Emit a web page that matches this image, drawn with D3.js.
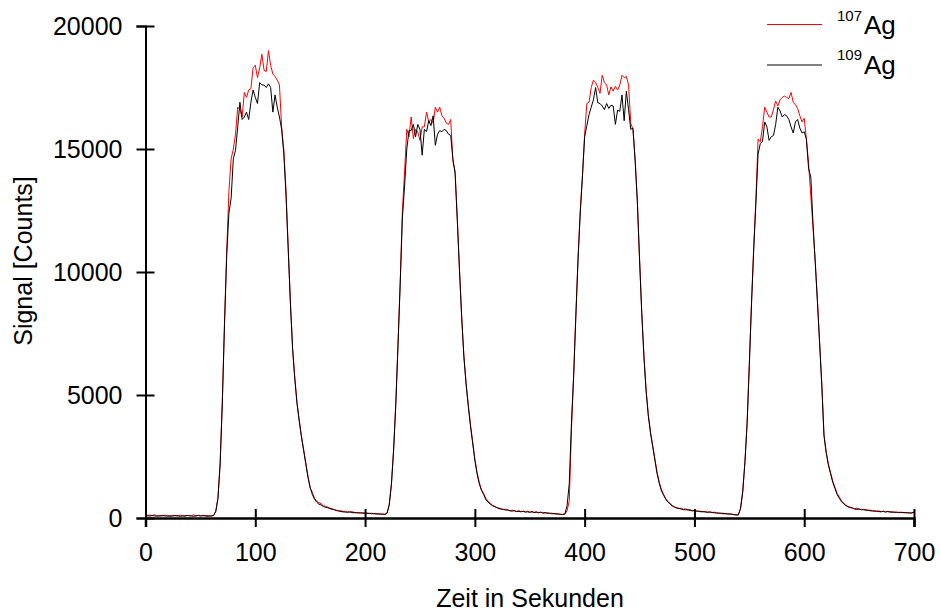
<!DOCTYPE html>
<html><head><meta charset="utf-8">
<script src="https://cdn.jsdelivr.net/npm/d3@7"></script>
<style>
body{margin:0;background:#fff}
svg{display:block}
text{font-family:"Liberation Sans", Arial, sans-serif; fill:#000}
</style>
</head><body>
<svg id="c" width="940" height="611"></svg>
<script>
// ---- data ----
const timeStep = 2; // seconds between samples, first sample at t = 0
const xTicks = [0, 100, 200, 300, 400, 500, 600, 700];
const yTicks = [0, 5000, 10000, 15000, 20000];
const xTitle = "Zeit in Sekunden";
const yTitle = "Signal [Counts]";
const seriesNames = ["107", "109"];

// 107Ag (red) by segment
const ag107_base = [150,110,120,90,130,100,80,110,90,120,70,100,90,110,80,100,120,90,80,110,90,100,130,80,100,90,110,80,100,90,80,100];
const ag107_peak1 = [280,820,2250,4800,8000,10900,13300,14600,15000,15600,16700,16600,16300,17300,17100,17400,17450,18300,18400,17900,18300,18850,18200,18150,19000,18400,18050,17950,17800,17600,15900,14950,13300,11000,8800,6900,5700,4700,4000,3350,2800,2250,1700,1200,1050,800,680,620,580,500,480,440,400,380,330,320,280,300,260,280,250,240,260,230,210,230,200,220,190,210,180,200,170,190,160,180,150,160];
const ag107_peak2 = [200,550,1400,2800,4700,7100,9600,12500,14100,15800,15500,16300,15420,15800,15700,15350,15900,15900,16500,16100,16200,16050,16700,16500,16700,16350,16250,16050,16000,16200,14500,14100,12200,10100,8200,6600,5500,4600,3800,3100,2400,1850,1450,1150,1000,800,680,600,520,480,430,400,380,340,360,320,300,320,290,270,300,260,270,250,280,240,250,230,260,220,230,210,200,220,180,200,170,180,150,160,140,150];
const ag107_peak3 = [300,700,3600,5800,8300,10600,12500,13900,15600,16850,16900,17500,17800,17700,17500,17260,18000,17700,17600,17200,17530,17350,17550,17400,17600,18000,17900,17950,17600,16050,15800,14600,12900,10600,8400,6600,5200,4200,3500,2950,2400,1850,1450,1150,950,780,670,580,510,450,420,380,400,350,380,320,340,300,290,300,260,280,250,270,240,250,220,240,200,210,180,200,170,160,180,150,130,140,120];
const ag107_peak4 = [400,1100,2300,3900,6300,8800,11000,13000,15400,15290,15900,16700,16500,16300,16300,16600,16950,16750,17000,17100,17150,17100,17050,17300,16900,16800,16650,16350,16100,16250,15400,14400,13100,11800,10500,8900,7200,5500,3400,2700,2200,1850,1500,1250,1000,850,700,600,520,470,440,400,380,400,350,360,330,350,310,320,280,300,270,290,260,280,250,270,240,260,230,250,220,240,210,230,200,220,190,260];

// 109Ag (black) by segment
const ag109_base = [110,90,80,100,90,70,90,80,100,80,90,70,80,90,100,80,70,90,80,100,90,80,70,90,110,80,90,100,70,80,90,100];
const ag109_peak1 = [260,790,2200,4700,7900,10700,12400,13000,14600,14950,15900,16900,16200,16300,16500,16200,16900,17400,17100,16850,17700,17600,17600,17500,17650,17500,16500,17200,16700,16300,15800,14800,13100,10900,8700,6850,5650,4650,3950,3300,2750,2200,1650,1250,950,760,640,560,530,470,430,420,380,350,340,300,290,260,250,240,230,250,220,210,220,200,210,190,200,180,190,170,180,160,170,150,160,140];
const ag109_peak2 = [190,520,1350,2750,4600,7000,9500,12200,13500,15000,15750,15750,16000,15500,16000,15800,14750,15800,15700,16150,15950,16350,15150,15600,15750,15700,15800,15750,15600,15550,14600,14000,12100,10050,8150,6550,5450,4550,3750,3050,2350,1800,1400,1120,960,740,650,560,500,460,420,380,360,350,320,330,290,280,300,260,270,250,280,240,250,230,260,220,230,210,240,200,220,190,200,170,180,160,170,140,150,160];
const ag109_peak3 = [500,1400,3900,5800,8200,10500,12400,13900,15500,15950,16400,16700,17000,17500,16880,16850,16750,16600,16850,16650,16780,16750,16000,16580,16530,17200,16150,17350,16600,15800,15850,14500,12850,10500,8350,6550,5150,4150,3450,2900,2350,1800,1400,1100,920,750,640,560,480,440,400,390,360,340,330,340,310,290,310,270,280,250,260,240,230,240,230,210,210,190,200,170,180,170,150,160,140,120,130];
const ag109_peak4 = [380,1050,2250,3850,6200,8700,10900,12800,14800,15220,15300,16100,15900,15350,15500,15550,16000,16700,16550,16300,16400,16350,16200,15900,15650,16100,16200,15850,15650,15700,15400,14200,13860,12000,10400,8800,7100,5400,3350,2650,2150,1800,1450,1200,950,800,660,570,500,450,420,410,360,350,370,330,350,310,320,290,300,270,280,260,250,270,240,260,250,230,240,220,230,220,230,210,220,200,210,240];

const ag107 = [].concat(ag107_base, ag107_peak1, ag107_peak2, ag107_peak3, ag107_peak4);
const ag109 = [].concat(ag109_base, ag109_peak1, ag109_peak2, ag109_peak3, ag109_peak4);

// ---- chart ----
const svg = d3.select("#c");
const x = d3.scaleLinear().domain([0, 700]).range([145.5, 914]);
const y = d3.scaleLinear().domain([0, 20000]).range([518, 26]);

const line = d3.line().x((d, i) => x(i * timeStep)).y(d => y(d));

svg.append("path").datum(ag107).attr("d", line)
  .attr("fill", "none").attr("stroke", "#ff0000").attr("stroke-width", 1);
svg.append("path").datum(ag109).attr("d", line)
  .attr("fill", "none").attr("stroke", "#000").attr("stroke-width", 1);

// x axis
const gx = svg.append("g").attr("transform", `translate(0,${y(0)})`)
  .call(d3.axisBottom(x).tickValues(xTicks).tickFormat(d3.format("d")).tickSizeOuter(0).tickSize(9));
gx.select(".domain").attr("stroke", "#000").attr("stroke-width", 2.5);
gx.selectAll(".tick line").attr("y1", -9).attr("y2", 9).attr("stroke-width", 2);
gx.selectAll(".tick text").attr("y", 43).attr("dy", 0)
  .style("font-size", "25px").style("font-family", "'Liberation Sans', Arial, sans-serif");

// y axis
const gy = svg.append("g").attr("transform", `translate(${x(0)},0)`)
  .call(d3.axisLeft(y).tickValues(yTicks).tickFormat(d3.format("d")).tickSizeOuter(0).tickSize(9));
gy.select(".domain").attr("stroke", "#000").attr("stroke-width", 2);
gy.selectAll(".tick line").attr("x1", -9).attr("x2", 9).attr("stroke-width", 2);
gy.selectAll(".tick text").attr("x", -23).attr("dy", "0.35em")
  .style("font-size", "25px").style("font-family", "'Liberation Sans', Arial, sans-serif");

// titles
svg.append("text").attr("x", 530).attr("y", 607).attr("text-anchor", "middle")
  .style("font-size", "25px").text(xTitle);
svg.append("text").attr("transform", "translate(32,261) rotate(-90)").attr("text-anchor", "middle")
  .style("font-size", "25px").text(yTitle);

// legend
const leg = [
  {name: seriesNames[0], color: "#ff0000", ly: 24.5, sup: 20.5, base: 33.5},
  {name: seriesNames[1], color: "#000", ly: 65, sup: 59.5, base: 74}
];
leg.forEach(l => {
  svg.append("line").attr("x1", 767).attr("x2", 822).attr("y1", l.ly).attr("y2", l.ly)
    .attr("stroke", l.color).attr("stroke-width", 1);
  svg.append("text").attr("x", 837).attr("y", l.sup).style("font-size", "15px").text(l.name);
  svg.append("text").attr("x", 864).attr("y", l.base).style("font-size", "26px").text("Ag");
});
</script>
</body></html>
